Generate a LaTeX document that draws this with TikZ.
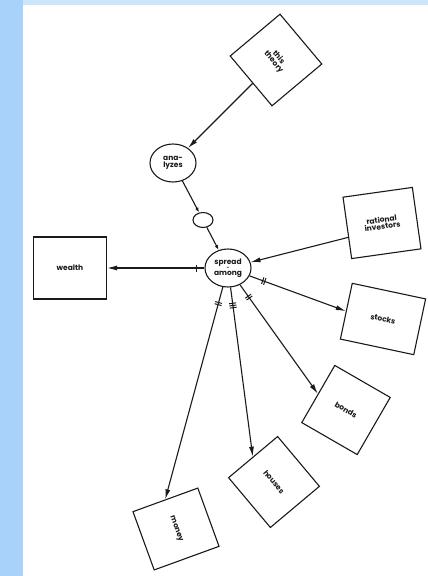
\documentclass[tikz,border=0pt]{standalone}
\usepackage{fontspec}
\setsansfont{Poppins}
\usetikzlibrary{arrows.meta,shapes.geometric,decorations.markings}

\definecolor{pageblue}{HTML}{A8D2FA}
\definecolor{topblue}{HTML}{CDE5FC}
\definecolor{ink}{HTML}{1A1A1A}

\begin{document}
\begin{tikzpicture}[
    x=1pt, y=-1pt,
    every node/.style={font=\sffamily\bfseries\fontsize{7.5}{7.5}\selectfont, align=center, text=ink},
    box/.style={draw=ink, line width=1.1pt, minimum width=66pt, minimum height=60pt, inner sep=1pt},
    bubble/.style={draw=ink, ellipse, line width=1.1pt, minimum width=46pt, minimum height=38pt, inner sep=0pt},
    link/.style={draw=ink, line width=1.1pt, -{Latex[length=10pt,width=5pt]}},
    smalllink/.style={draw=ink, line width=1.1pt, -{Latex[length=5pt,width=3.5pt]}},
    bars/.style 2 args={postaction={decorate}, decoration={markings,
        mark=at position #2 with {\foreach \k in {1,...,#1}{\draw[ink, line width=1pt, -] (\k*2.2pt-2.2pt,-3.5pt) -- (\k*2.2pt-2.2pt,3.5pt);}}}}
  ]
    % page and scan margin
    \useasboundingbox (0,0) rectangle (428,576);
    \fill[pageblue] (0,0) rectangle (428,576);
    \fill[topblue] (23,0) rectangle (428,5);
    \fill[white] (23,5) rectangle (428,576);

    \node[box, minimum width=65pt, minimum height=65pt, rotate=-50] (theory) at (276,60) {this\\[-1pt]theory};
    \node[bubble] (analyzes) at (173,163) {ana-\\[-1pt]lyzes};
    \node[bubble, minimum width=20pt, minimum height=15pt] (valve) at (203,220) {};
    \node[bubble] (spread) at (228,268) {spread\\[-2pt]{\tiny -}\\[-2pt]among};
    \node[box, minimum width=73pt, minimum height=62pt] (wealth) at (70,268) {wealth};
    \node[box, minimum width=70pt, minimum height=62pt, rotate=8] (investors) at (382,223) {rational\\[-1pt]investors};
    \node[box, minimum width=75pt, minimum height=57pt, rotate=-12] (stocks) at (383,319) {stocks};
    \node[box, minimum width=64pt, minimum height=66pt, rotate=-30] (bonds) at (346,410) {bonds};
    \node[box, minimum width=65pt, minimum height=64pt, rotate=-50] (houses) at (274,482) {houses};
    \node[box, minimum width=62pt, minimum height=69pt, rotate=-70] (money) at (176,529) {money};

    \draw[link] (theory) -- (analyzes);
    \draw[smalllink] (analyzes) -- (valve);
    \draw[smalllink] (valve) -- (spread);
    \draw[link] (investors.195) -- (spread);
    \draw[link, bars={1}{8pt}] (spread) -- (wealth);
    \draw[link, bars={2}{14pt}] (spread) -- (stocks.west);
    \draw[link, bars={2}{14pt}] (spread) -- (bonds.west);
    \draw[link, bars={3}{16pt}] (spread) -- (houses.west);
    \draw[link, bars={2}{16pt}] (spread) -- (money.west);
  \end{tikzpicture}
\end{document}
